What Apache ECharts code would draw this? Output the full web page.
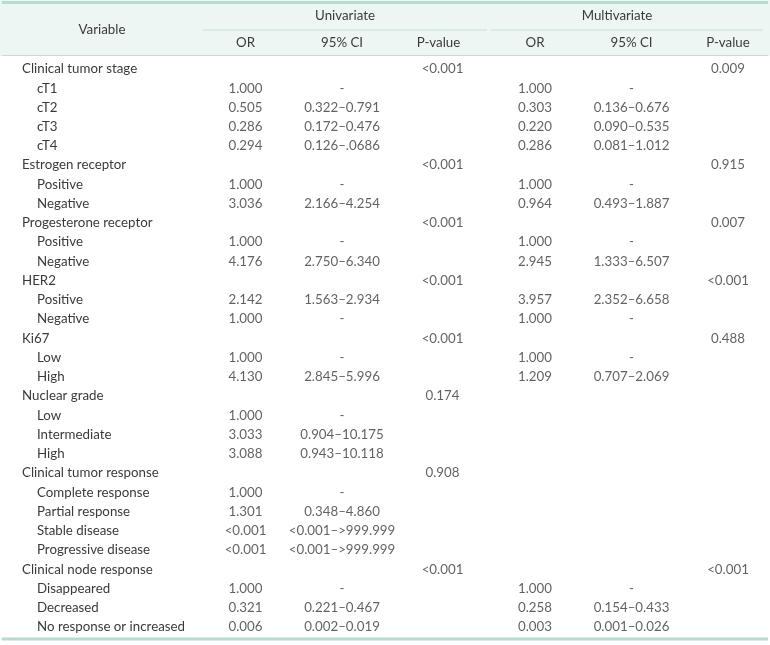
<!DOCTYPE html>
<html><head><meta charset="utf-8">
<script src="https://cdn.jsdelivr.net/npm/echarts@6/dist/echarts.min.js"></script>
<style>html,body{margin:0;padding:0;background:#fff}#c{width:770px;height:645px}</style>
</head><body><div id="c"></div>
<script>
// ---- data ----
const variables = [
  'Clinical tumor stage','cT1','cT2','cT3','cT4',
  'Estrogen receptor','Positive','Negative',
  'Progesterone receptor','Positive','Negative',
  'HER2','Positive','Negative',
  'Ki67','Low','High',
  'Nuclear grade','Low','Intermediate','High',
  'Clinical tumor response','Complete response','Partial response','Stable disease','Progressive disease',
  'Clinical node response','Disappeared','Decreased','No response or increased'
];
const rowLevel = [0,1,1,1,1, 0,1,1, 0,1,1, 0,1,1, 0,1,1, 0,1,1,1, 0,1,1,1,1, 0,1,1,1];
const uniOR = ['','1.000','0.505','0.286','0.294', '','1.000','3.036', '','1.000','4.176', '','2.142','1.000', '','1.000','4.130', '','1.000','3.033','3.088', '','1.000','1.301','<0.001','<0.001', '','1.000','0.321','0.006'];
const uniCI = ['','-','0.322–0.791','0.172–0.476','0.126–.0686', '','-','2.166–4.254', '','-','2.750–6.340', '','1.563–2.934','-', '','-','2.845–5.996', '','-','0.904–10.175','0.943–10.118', '','-','0.348–4.860','<0.001–>999.999','<0.001–>999.999', '','-','0.221–0.467','0.002–0.019'];
const uniP = ['<0.001','','','','', '<0.001','','', '<0.001','','', '<0.001','','', '<0.001','','', '0.174','','','', '0.908','','','','', '<0.001','','',''];
const multiOR = ['','1.000','0.303','0.220','0.286', '','1.000','0.964', '','1.000','2.945', '','3.957','1.000', '','1.000','1.209', '','','','', '','','','','', '','1.000','0.258','0.003'];
const multiCI = ['','-','0.136–0.676','0.090–0.535','0.081–1.012', '','-','0.493–1.887', '','-','1.333–6.507', '','2.352–6.658','-', '','-','0.707–2.069', '','','','', '','','','','', '','-','0.154–0.433','0.001–0.026'];
const multiP = ['0.009','','','','', '0.915','','', '0.007','','', '<0.001','','', '0.488','','', '','','','', '','','','','', '<0.001','','',''];
const columnHeaders = ['', 'OR', '95% CI', 'P-value', 'OR', '95% CI', 'P-value'];
const groupHeaders = ['Univariate', 'Multivariate'];
const stubHeader = 'Variable';

// ---- chart ----
const FONT = 'Lato';
const FS = 13.3;
const TXT = '#3a3a3a';
const columns = [uniOR, uniCI, uniP, multiOR, multiCI, multiP];
const colOffsets = [0, 0, 4, 0, 0, 0];

const series = columns.map((vals, ci) => ({
  type: 'scatter',
  symbolSize: 1,
  itemStyle: { color: 'transparent' },
  silent: true,
  data: vals.map((v, ri) => [ci + 1, ri, v]).filter(d => d[2] !== ''),
  label: {
    show: true, position: 'inside', offset: [colOffsets[ci], 0],
    formatter: p => p.value[2],
    color: TXT, fontFamily: FONT, fontSize: FS
  }
}));

const chart = echarts.init(document.getElementById('c'), null, { renderer: 'canvas' });
chart.setOption({
  animation: false,
  backgroundColor: '#fff',
  grid: { left: 149, right: 3.4, top: 59.38, bottom: 8.4 },
  xAxis: {
    type: 'value', min: 0, max: 6.4, interval: 1, position: 'top',
    axisLine: { show: false }, axisTick: { show: false }, splitLine: { show: false },
    axisLabel: {
      margin: 17, verticalAlign: 'middle', color: TXT, fontFamily: FONT, fontSize: FS,
      showMaxLabel: false,
      formatter: v => (Number.isInteger(v) ? (columnHeaders[v] || '') : '')
    }
  },
  yAxis: {
    type: 'category', inverse: true, data: variables.map((v, i) => i),
    axisLine: { show: false }, axisTick: { show: false }, splitLine: { show: false },
    axisLabel: {
      interval: 0, align: 'left', margin: 127, color: TXT, fontFamily: FONT, fontSize: FS,
      formatter: (v) => rowLevel[+v] ? '{sub|' + variables[+v] + '}' : variables[+v],
      rich: { sub: { padding: [0, 0, 0, 15], color: TXT, fontFamily: FONT, fontSize: FS } }
    }
  },
  graphic: [
    { type: 'rect', z: -10, shape: { x: 0, y: 0, width: 770, height: 56 }, style: { fill: '#eef6f3' } },
    { type: 'rect', shape: { x: 2, y: 1, width: 766, height: 3 }, style: { fill: '#b5dccf' } },
    { type: 'rect', shape: { x: 203, y: 29.5, width: 284, height: 1 }, style: { fill: '#c6ddd5' } },
    { type: 'rect', shape: { x: 491, y: 29.5, width: 272, height: 1 }, style: { fill: '#c6ddd5' } },
    { type: 'rect', shape: { x: 2, y: 55, width: 766, height: 1 }, style: { fill: '#c6ddd5' } },
    { type: 'rect', shape: { x: 2, y: 637.5, width: 766, height: 3 }, style: { fill: '#b5dccf' } },
    { type: 'text', x: 102, y: 30, style: { text: stubHeader, align: 'center', verticalAlign: 'middle', fill: TXT, font: FS + 'px ' + FONT } },
    { type: 'text', x: 345, y: 16, style: { text: groupHeaders[0], align: 'center', verticalAlign: 'middle', fill: TXT, font: FS + 'px ' + FONT } },
    { type: 'text', x: 617, y: 16, style: { text: groupHeaders[1], align: 'center', verticalAlign: 'middle', fill: TXT, font: FS + 'px ' + FONT } }
  ],
  series
});
</script></body></html>
